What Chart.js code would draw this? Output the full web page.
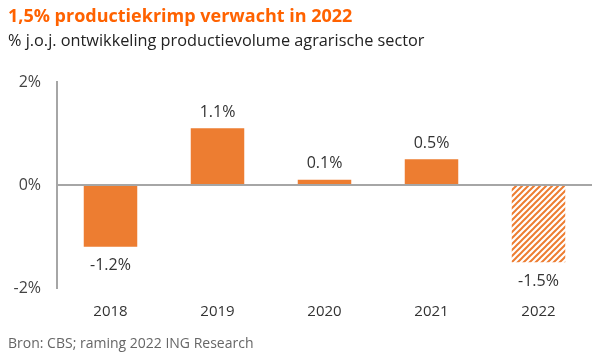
<!DOCTYPE html>
<html>
<head>
<meta charset="utf-8">
<script src="https://cdn.jsdelivr.net/npm/chart.js@4"></script>
<style>
  html, body { margin: 0; padding: 0; background: #fff; }
  #wrap { position: relative; width: 600px; height: 362px; font-family: "Open Sans", sans-serif; }
  #title { position: absolute; left: 8px; top: 3px; font-size: 18px; font-weight: bold; color: #FF6200; white-space: nowrap; }
  #subtitle { position: absolute; left: 8px; top: 29px; font-size: 16.3px; color: #222; white-space: nowrap; }
  #source { position: absolute; left: 8px; top: 333px; font-size: 14px; color: #666; white-space: nowrap; }
  canvas { position: absolute; left: 0; top: 0; }
</style>
</head>
<body>
<div id="wrap">
  <canvas id="chart" width="600" height="362"></canvas>
  <div id="title">1,5% productiekrimp verwacht in 2022</div>
  <div id="subtitle">% j.o.j. ontwikkeling productievolume agrarische sector</div>
  <div id="source">Bron: CBS; raming 2022 ING Research</div>
</div>
<script>
const years = ['2018', '2019', '2020', '2021', '2022']
const growth = [-1.2, 1.1, 0.1, 0.5, -1.5]
const forecast = [false, false, false, false, true]

const orange = '#ED7D31'
const axisGrey = '#A6A6A6'

// gestreept patroon voor de raming
function hatch() {
  const c = document.createElement('canvas')
  c.width = 6
  c.height = 6
  const ctx = c.getContext('2d')
  ctx.strokeStyle = orange
  ctx.lineWidth = 2
  ctx.beginPath()
  ctx.moveTo(0, 6); ctx.lineTo(6, 0)
  ctx.moveTo(-1, 1); ctx.lineTo(1, -1)
  ctx.moveTo(5, 7); ctx.lineTo(7, 5)
  ctx.stroke()
  return document.getElementById('chart').getContext('2d').createPattern(c, 'repeat')
}

const valueLabels = {
  id: 'valueLabels',
  afterDatasetsDraw(chart) {
    const ctx = chart.ctx
    const meta = chart.getDatasetMeta(0)
    ctx.save()
    ctx.font = '16px "Open Sans", sans-serif'
    ctx.fillStyle = '#333'
    ctx.textAlign = 'center'
    ctx.textBaseline = 'middle'
    meta.data.forEach((bar, i) => {
      const v = growth[i]
      const y = v >= 0 ? bar.y - 16 : bar.y + 19
      ctx.fillText(v.toFixed(1) + '%', bar.x, y)
    })
    ctx.restore()
  }
}

const pattern = hatch()

new Chart(document.getElementById('chart'), {
  type: 'bar',
  data: {
    labels: years,
    datasets: [{
      data: growth,
      backgroundColor: forecast.map(f => f ? pattern : orange),
      barPercentage: 0.5,
      categoryPercentage: 1.0
    }]
  },
  options: {
    responsive: false,
    animation: false,
    layout: { padding: { top: 82, right: 8, left: 0, bottom: 0 } },
    plugins: { legend: { display: false }, tooltip: { enabled: false } },
    scales: {
      x: {
        grid: { display: false, drawTicks: false },
        border: { display: false },
        ticks: { padding: 15, color: '#333', font: { family: '"Open Sans", sans-serif', size: 15 } },
        afterFit: (s) => { s.height = 74 }
      },
      y: {
        min: -2,
        max: 2,
        ticks: {
          stepSize: 2,
          padding: 16,
          color: '#444',
          font: { family: '"Open Sans", sans-serif', size: 16 },
          callback: (v) => v + '%'
        },
        grid: {
          drawTicks: false,
          color: (c) => c.tick && c.tick.value === 0 ? axisGrey : 'rgba(0,0,0,0)',
          lineWidth: 2
        },
        border: { display: true, color: axisGrey, width: 2 },
        afterFit: (s) => { s.width = 57 }
      }
    }
  },
  plugins: [valueLabels]
})
</script>
</body>
</html>
